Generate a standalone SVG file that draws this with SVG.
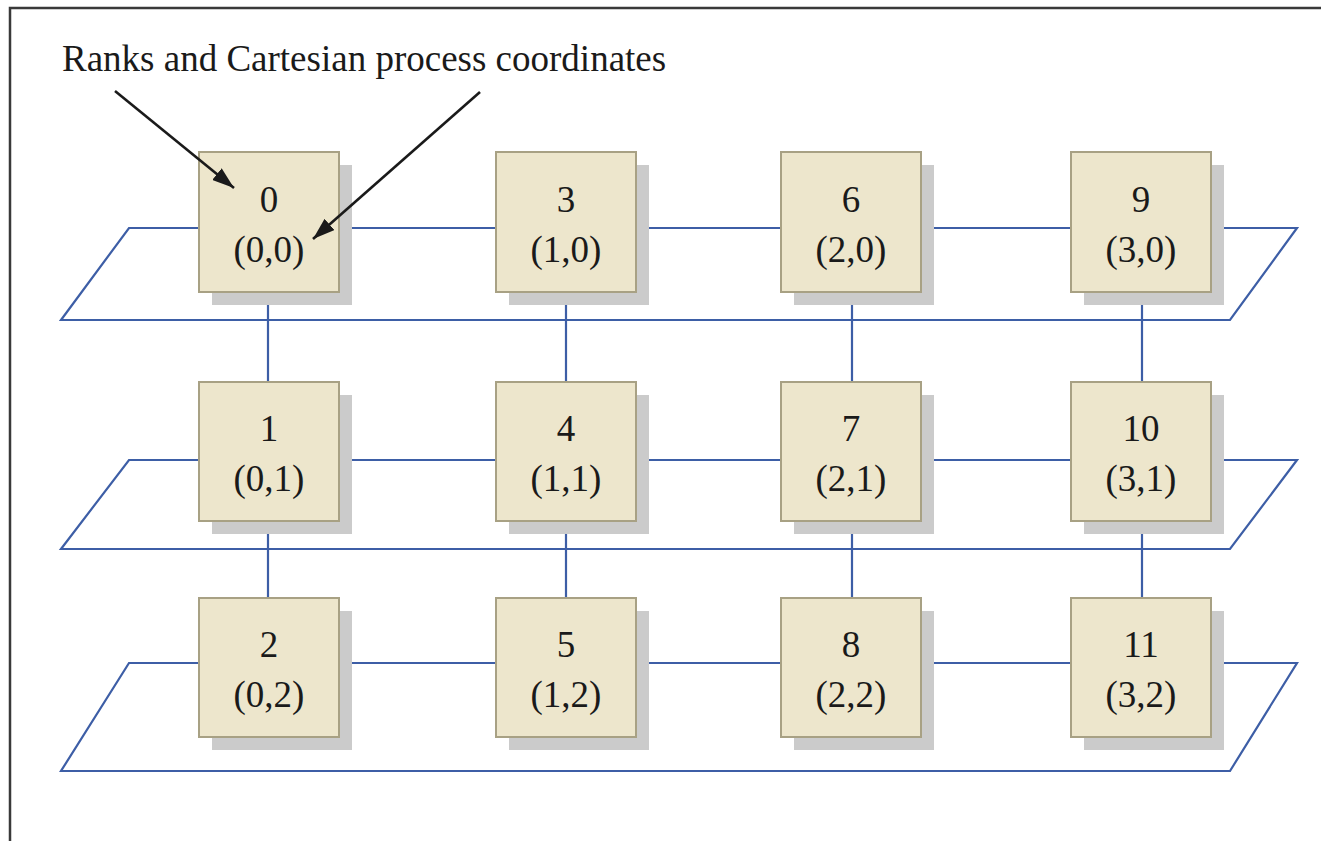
<svg xmlns="http://www.w3.org/2000/svg" width="1321" height="841" viewBox="0 0 1321 841">
  <style>
    .frame { fill: none; stroke: #3a3a3a; stroke-width: 2.5; }
    .plane { fill: none; stroke: #3d5ea6; stroke-width: 2.2; stroke-linejoin: miter; }
    .link { fill: none; stroke: #3d5ea6; stroke-width: 2.2; }
    .shadow { fill: #cbcbcb; }
    .box { fill: #ede6cc; stroke: #a8a184; stroke-width: 2; }
    .lbl { font-family: "Liberation Serif", "Times New Roman", serif; font-size: 37px; fill: #1a1a1a; text-anchor: middle; }
    .title { font-family: "Liberation Serif", "Times New Roman", serif; font-size: 37px; fill: #1a1a1a; }
    .pointer { fill: none; stroke: #1a1a1a; stroke-width: 2.6; }
  </style>
  <defs>
    <marker id="tip" viewBox="0 0 22 15" refX="22" refY="7.5" markerWidth="22" markerHeight="15" markerUnits="userSpaceOnUse" orient="auto">
      <path d="M0,0 L22,7.5 L0,15 z" fill="#1a1a1a"/>
    </marker>
  </defs>

  <rect width="1321" height="841" fill="#ffffff"/>
  <!-- page frame (open to the right and bottom) -->
  <path class="frame" d="M10,841 V8 H1321"/>

  <!-- connectors: planes and vertical links -->
  <g id="connectors">
    <polygon class="plane" points="129,228 1297,228 1230,320 61,320"/>
    <polygon class="plane" points="129,460 1297,460 1230,549 61,549"/>
    <polygon class="plane" points="129,663 1297,663 1230,771 61,771"/>
    <path class="link" d="M268,292 V382 M566,292 V382 M852,292 V382 M1142,292 V382"/>
    <path class="link" d="M268,521 V598 M566,521 V598 M852,521 V598 M1142,521 V598"/>
  </g>

  <!-- process nodes -->
  <g id="n0"><rect class="shadow" x="212" y="165" width="140" height="140"/><rect class="box" x="199" y="152" width="140" height="140"/><text class="lbl" x="269" y="212">0</text><text class="lbl" x="269" y="262">(0,0)</text></g>
  <g id="n3"><rect class="shadow" x="509" y="165" width="140" height="140"/><rect class="box" x="496" y="152" width="140" height="140"/><text class="lbl" x="566" y="212">3</text><text class="lbl" x="566" y="262">(1,0)</text></g>
  <g id="n6"><rect class="shadow" x="794" y="165" width="140" height="140"/><rect class="box" x="781" y="152" width="140" height="140"/><text class="lbl" x="851" y="212">6</text><text class="lbl" x="851" y="262">(2,0)</text></g>
  <g id="n9"><rect class="shadow" x="1084" y="165" width="140" height="140"/><rect class="box" x="1071" y="152" width="140" height="140"/><text class="lbl" x="1141" y="212">9</text><text class="lbl" x="1141" y="262">(3,0)</text></g>

  <g id="n1"><rect class="shadow" x="212" y="395" width="140" height="139"/><rect class="box" x="199" y="382" width="140" height="139"/><text class="lbl" x="269" y="441">1</text><text class="lbl" x="269" y="491">(0,1)</text></g>
  <g id="n4"><rect class="shadow" x="509" y="395" width="140" height="139"/><rect class="box" x="496" y="382" width="140" height="139"/><text class="lbl" x="566" y="441">4</text><text class="lbl" x="566" y="491">(1,1)</text></g>
  <g id="n7"><rect class="shadow" x="794" y="395" width="140" height="139"/><rect class="box" x="781" y="382" width="140" height="139"/><text class="lbl" x="851" y="441">7</text><text class="lbl" x="851" y="491">(2,1)</text></g>
  <g id="n10"><rect class="shadow" x="1084" y="395" width="140" height="139"/><rect class="box" x="1071" y="382" width="140" height="139"/><text class="lbl" x="1141" y="441">10</text><text class="lbl" x="1141" y="491">(3,1)</text></g>

  <g id="n2"><rect class="shadow" x="212" y="611" width="140" height="139"/><rect class="box" x="199" y="598" width="140" height="139"/><text class="lbl" x="269" y="657">2</text><text class="lbl" x="269" y="707">(0,2)</text></g>
  <g id="n5"><rect class="shadow" x="509" y="611" width="140" height="139"/><rect class="box" x="496" y="598" width="140" height="139"/><text class="lbl" x="566" y="657">5</text><text class="lbl" x="566" y="707">(1,2)</text></g>
  <g id="n8"><rect class="shadow" x="794" y="611" width="140" height="139"/><rect class="box" x="781" y="598" width="140" height="139"/><text class="lbl" x="851" y="657">8</text><text class="lbl" x="851" y="707">(2,2)</text></g>
  <g id="n11"><rect class="shadow" x="1084" y="611" width="140" height="139"/><rect class="box" x="1071" y="598" width="140" height="139"/><text class="lbl" x="1141" y="657">11</text><text class="lbl" x="1141" y="707">(3,2)</text></g>

  <!-- caption with its two pointers -->
  <g id="caption">
    <text class="title" x="62" y="71">Ranks and Cartesian process coordinates</text>
    <path class="pointer" d="M115,91 L234,188" marker-end="url(#tip)"/>
    <path class="pointer" d="M480,92 L313,239" marker-end="url(#tip)"/>
  </g>
</svg>
